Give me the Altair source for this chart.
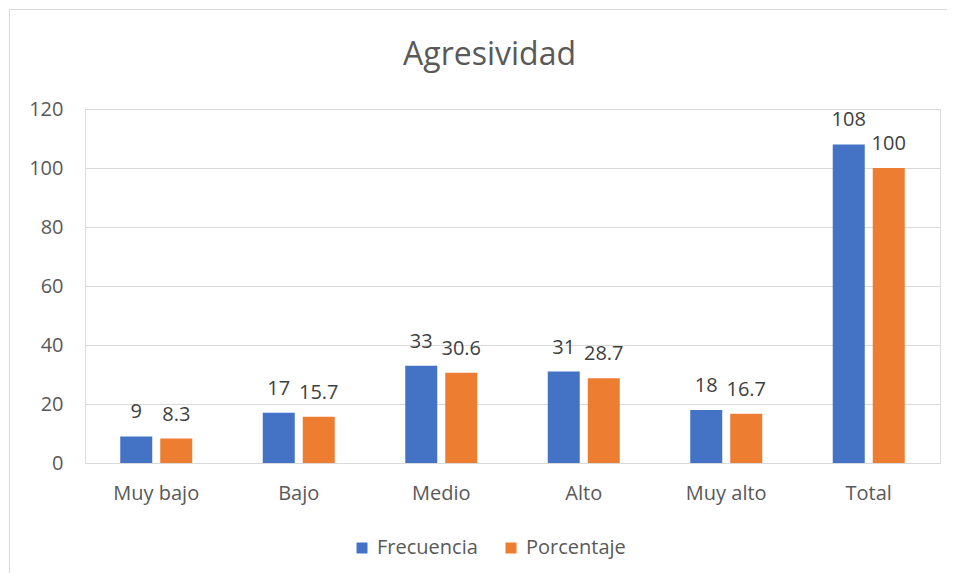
import altair as alt
import pandas as pd

categories = ["Muy bajo", "Bajo", "Medio", "Alto", "Muy alto", "Total"]
frecuencia = [9, 17, 33, 31, 18, 108]
porcentaje = [8.3, 15.7, 30.6, 28.7, 16.7, 100]
series = ["Frecuencia", "Porcentaje"]
y_ticks = [0, 20, 40, 60, 80, 100, 120]

rows = []
for c, f, p in zip(categories, frecuencia, porcentaje):
    rows.append({"cat": c, "serie": series[0], "valor": f, "label": f"{f:g}"})
    rows.append({"cat": c, "serie": series[1], "valor": p, "label": f"{p:g}"})
df = pd.DataFrame(rows)

FONT = "Open Sans"
FS = 20
x = alt.X("cat:N", sort=categories, title=None,
          scale=alt.Scale(paddingInner=0.4947, paddingOuter=0.2474),
          axis=alt.Axis(labelAngle=0, labelFontSize=FS, labelColor="#595959",
                        labelFont=FONT, labelPadding=20, ticks=False,
                        domainColor="#D9D9D9", domainWidth=1, grid=False))
xo = alt.XOffset("serie:N", sort=series,
                 scale=alt.Scale(paddingInner=0.2, paddingOuter=0))
y = alt.Y("valor:Q", title=None,
          scale=alt.Scale(domain=[0, 120], nice=False),
          axis=alt.Axis(values=y_ticks, labelFontSize=FS, labelColor="#595959",
                        labelFont=FONT, labelPadding=22, ticks=False, domain=False,
                        gridColor="#D9D9D9", gridWidth=1))
color = alt.Color("serie:N", sort=series,
                  scale=alt.Scale(domain=series, range=["#4472C4", "#ED7D31"]),
                  legend=alt.Legend(title=None, orient="none", direction="horizontal",
                                    legendX=267, legendY=429, symbolType="square",
                                    symbolSize=121, symbolStrokeWidth=0,
                                    labelFontSize=FS, labelColor="#595959",
                                    labelFont=FONT, labelOffset=5, columnPadding=23))

base = alt.Chart(df)
bars = base.mark_bar().encode(x=x, xOffset=xo, y=y, color=color)
labels = base.mark_text(fontSize=FS, font=FONT, color="#404040",
                        baseline="alphabetic", dy=-18).encode(
    x=x, xOffset=xo, y=y, text="label:N")

border_top = alt.Chart(pd.DataFrame({"a": [0]})).mark_rule(color="#D9D9D9", strokeWidth=1).encode(
    x=alt.value(-76), x2=alt.value(870), y=alt.value(-99.5))
border_left = alt.Chart(pd.DataFrame({"a": [0]})).mark_rule(color="#D9D9D9", strokeWidth=1).encode(
    x=alt.value(-75.5), y=alt.value(-100), y2=alt.value(470))

chart = alt.layer(border_top, border_left, bars, labels).properties(
    width=855, height=354,
    title=alt.TitleParams("Agresividad", fontSize=32, font=FONT, color="#595959",
                          fontWeight="normal", anchor="middle", dx=-23, offset=-88,
                          baseline="alphabetic"),
    padding={"left": 77, "top": 101, "right": 7, "bottom": 110},
    autosize=alt.AutoSizeParams(type="none"),
).configure_view(stroke=None).configure(background="white")

chart.save("out.html", embed_options={"renderer": "svg", "actions": False})
